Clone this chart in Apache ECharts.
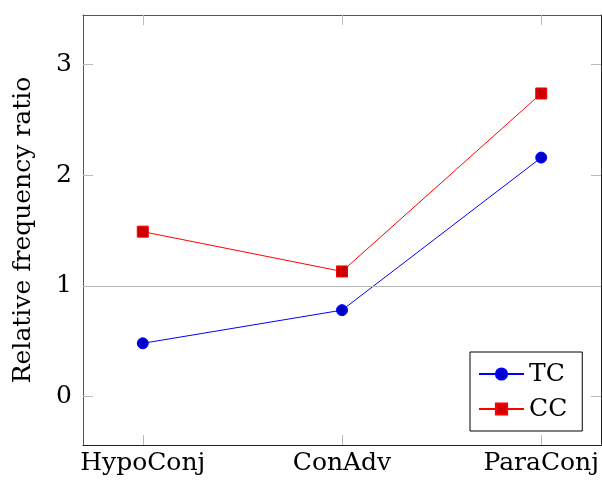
<!DOCTYPE html>
<html>
<head>
<meta charset="utf-8">
<script src="https://cdn.jsdelivr.net/npm/echarts@6/dist/echarts.min.js"></script>
<style>
  html, body { margin: 0; padding: 0; background: #fff; }
  #chart { width: 602px; height: 480px; }
</style>
</head>
<body>
<div id="chart"></div>
<script>
const categories = ["HypoConj", "ConAdv", "ParaConj"];
const tcValues = [0.48, 0.78, 2.16];
const ccValues = [1.49, 1.13, 2.74];
const yTicks = [0, 1, 2, 3];
const xTicks = [0, 1, 2];

const font = "DejaVu Serif";
const fontSize = 25;
const chart = echarts.init(document.getElementById("chart"), null, { renderer: "canvas" });

const tick = { show: true, inside: true, length: 10, lineStyle: { color: "#bbb", width: 1 } };

const xBase = {
  type: "value", min: -0.3, max: 2.3,
  splitLine: { show: false },
  axisTick: Object.assign({}, tick, { customValues: xTicks }),
};
const yBase = {
  type: "value", min: -0.44, max: 3.45,
  splitLine: { show: false },
  axisTick: Object.assign({}, tick, { customValues: yTicks }),
};

const option = {
  animation: false,
  grid: { left: 83, right: 1, top: 15, bottom: 35 },
  xAxis: [
    Object.assign({}, xBase, {
      position: "bottom",
      axisLine: { show: true, onZero: false, lineStyle: { color: "#222", width: 1 } },
      axisLabel: {
        customValues: xTicks, margin: 6, color: "#000",
        fontFamily: font, fontSize: fontSize,
        formatter: v => categories[Math.round(v)]
      }
    }),
    Object.assign({}, xBase, {
      position: "top",
      axisLine: { show: true, onZero: false, lineStyle: { color: "#555", width: 1 } },
      axisLabel: { show: false }
    })
  ],
  yAxis: [
    Object.assign({}, yBase, {
      position: "left",
      name: "Relative frequency ratio",
      nameLocation: "middle",
      nameGap: 47,
      nameTextStyle: { fontFamily: font, fontSize: fontSize, color: "#000" },
      axisLine: { show: true, onZero: false, lineStyle: { color: "#555", width: 1 } },
      axisLabel: {
        customValues: yTicks, margin: 11, color: "#000",
        fontFamily: font, fontSize: fontSize
      }
    }),
    Object.assign({}, yBase, {
      position: "right",
      axisLine: { show: true, onZero: false, lineStyle: { color: "#222", width: 1 } },
      axisLabel: { show: false }
    })
  ],
  legend: {
    orient: "vertical",
    left: 470, top: 352,
    padding: [9, 15, 9, 8],
    itemGap: 9,
    itemWidth: 45, itemHeight: 14,
    borderColor: "#000", borderWidth: 1,
    textStyle: { fontFamily: font, fontSize: fontSize, color: "#000", lineHeight: 26 },
    data: ["TC", "CC"]
  },
  series: [
    {
      name: "TC", type: "line",
      data: categories.map((c, i) => [i, tcValues[i]]),
      symbol: "circle", symbolSize: 11,
      lineStyle: { color: "#0000ff", width: 1 },
      itemStyle: { color: "#0000cc", borderColor: "#0000ff", borderWidth: 1 },
      markLine: {
        silent: true, symbol: "none", label: { show: false },
        lineStyle: { color: "#b5b5b5", width: 1, type: "solid" },
        data: [{ yAxis: 1 }]
      },
      z: 3
    },
    {
      name: "CC", type: "line",
      data: categories.map((c, i) => [i, ccValues[i]]),
      symbol: "rect", symbolSize: 11,
      lineStyle: { color: "#ff0000", width: 1 },
      itemStyle: { color: "#cc0000", borderColor: "#ff0000", borderWidth: 1 },
      z: 4
    }
  ]
};

chart.setOption(option);
</script>
</body>
</html>
